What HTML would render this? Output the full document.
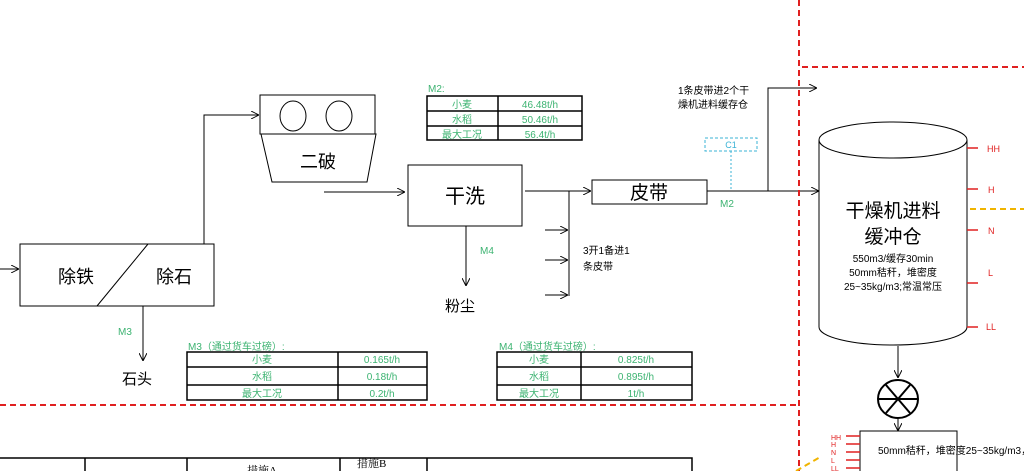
<!DOCTYPE html>
<html><head><meta charset="utf-8"><style>
html,body{margin:0;padding:0;background:#fff;width:1024px;height:471px;overflow:hidden}
svg{display:block}
text{font-family:"Liberation Sans","Noto Sans CJK SC",sans-serif}
.s{font-family:"Liberation Serif","Noto Serif CJK SC",serif}
.g{fill:#3cb371}
</style></head><body>
<svg width="1024" height="471" viewBox="0 0 1024 471" xmlns="http://www.w3.org/2000/svg">
<defs>
<marker id="a" viewBox="0 0 10 10" refX="10" refY="5" markerWidth="8" markerHeight="8" orient="auto" markerUnits="userSpaceOnUse"><path d="M0,0 L10,5 L0,10" fill="none" stroke="#000" stroke-width="1.2"/></marker>
</defs>
<g stroke="#000" stroke-width="1" fill="none">
<!-- 除铁除石 -->
<rect x="20" y="244" width="194" height="62"/>
<line x1="148" y1="244" x2="97" y2="306"/>
<line x1="0" y1="269" x2="19" y2="269" marker-end="url(#a)"/>
<polyline points="204,244 204,115 259,115" marker-end="url(#a)"/>
<!-- 二破 -->
<rect x="260" y="95" width="115" height="39"/>
<ellipse cx="293" cy="116" rx="13" ry="15"/>
<ellipse cx="339" cy="116" rx="13" ry="15"/>
<polygon points="261,134 376,134 367,182 272,182"/>
<line x1="324" y1="192" x2="405" y2="192" marker-end="url(#a)"/>
<!-- 干洗 -->
<rect x="408" y="165" width="114" height="61"/>
<line x1="525" y1="191" x2="591" y2="191" marker-end="url(#a)"/>
<line x1="569" y1="191" x2="569" y2="296"/>
<line x1="545" y1="230" x2="568" y2="230" marker-end="url(#a)"/>
<line x1="545" y1="260" x2="568" y2="260" marker-end="url(#a)"/>
<line x1="545" y1="295" x2="568" y2="295" marker-end="url(#a)"/>
<line x1="466" y1="226" x2="466" y2="286" marker-end="url(#a)"/>
<!-- 皮带 -->
<rect x="592" y="180" width="115" height="24"/>
<line x1="707" y1="191" x2="819" y2="191" marker-end="url(#a)"/>
<polyline points="768,191 768,88 817,88" marker-end="url(#a)"/>
<!-- M3 arrow -->
<line x1="143" y1="306" x2="143" y2="361" marker-end="url(#a)"/>
<!-- cylinder -->
<path d="M819,140 L819,327 A74,18 0 0 0 967,327 L967,140"/>
<ellipse cx="893" cy="140" rx="74" ry="18"/>
<line x1="898" y1="346" x2="898" y2="378" marker-end="url(#a)"/>
<line x1="898" y1="419" x2="898" y2="431" marker-end="url(#a)"/>
<rect x="860" y="431" width="97" height="50"/>
</g>
<g stroke="#000" stroke-width="2" fill="none">
<ellipse cx="898" cy="399" rx="20" ry="19"/>
<line x1="878" y1="399" x2="918" y2="399"/>
<line x1="886" y1="385" x2="910" y2="413"/>
<line x1="910" y1="385" x2="886" y2="413"/>
</g>
<!-- C1 -->
<rect x="705" y="138" width="52" height="13" fill="none" stroke="#3bb3d6" stroke-dasharray="3,2"/>
<line x1="731" y1="151" x2="731" y2="191" stroke="#3bb3d6" stroke-dasharray="2,2"/>
<text x="731" y="148" font-size="9" fill="#3bb3d6" text-anchor="middle">C1</text>
<!-- red dashed -->
<g stroke="#e02020" stroke-width="2" stroke-dasharray="6,4" fill="none">
<line x1="799" y1="0" x2="799" y2="471"/>
<line x1="0" y1="405" x2="798" y2="405"/>
<line x1="802" y1="67" x2="1024" y2="67"/>
</g>
<g stroke="#f0b400" stroke-width="2" stroke-dasharray="6,4">
<line x1="970" y1="209" x2="1024" y2="209"/>
<line x1="796" y1="471" x2="822" y2="456"/>
</g>
<!-- level ticks -->
<g stroke="#e02020" stroke-width="1.5">
<line x1="967" y1="148" x2="978" y2="148"/><line x1="967" y1="189" x2="978" y2="189"/>
<line x1="967" y1="230" x2="978" y2="230"/><line x1="967" y1="283" x2="978" y2="283"/>
<line x1="967" y1="327" x2="978" y2="327"/>
<line x1="846" y1="436" x2="860" y2="436"/><line x1="846" y1="444" x2="860" y2="444"/>
<line x1="846" y1="452" x2="860" y2="452"/><line x1="846" y1="460" x2="860" y2="460"/>
<line x1="846" y1="468" x2="860" y2="468"/>
</g>
<g fill="#e02020" font-size="9">
<text x="987" y="152">HH</text><text x="988" y="193">H</text><text x="988" y="234">N</text>
<text x="988" y="276">L</text><text x="986" y="330">LL</text>
</g>
<g fill="#e02020" font-size="7">
<text x="831" y="440">HH</text><text x="831" y="447">H</text><text x="831" y="455">N</text><text x="831" y="463">L</text><text x="831" y="471">LL</text>
</g>
<!-- main labels -->
<text x="76" y="283" font-size="18" text-anchor="middle">除铁</text>
<text x="174" y="283" font-size="18" text-anchor="middle">除石</text>
<text x="318" y="168" font-size="18" text-anchor="middle">二破</text>
<text x="465" y="203" font-size="20" text-anchor="middle">干洗</text>
<text x="649" y="199" font-size="19" text-anchor="middle">皮带</text>
<text x="460" y="311" font-size="15" text-anchor="middle">粉尘</text>
<text x="137" y="384" font-size="15" text-anchor="middle">石头</text>
<text x="583" y="254" font-size="10">3开1备进1</text>
<text x="583" y="270" font-size="10">条皮带</text>
<text x="678" y="94" font-size="10">1条皮带进2个干</text>
<text x="678" y="108" font-size="10">燥机进料缓存仓</text>
<text x="480" y="254" font-size="10" class="g">M4</text>
<text x="118" y="335" font-size="10" class="g">M3</text>
<text x="720" y="207" font-size="10" class="g">M2</text>
<text x="893" y="217" font-size="19" text-anchor="middle">干燥机进料</text>
<text x="893" y="243" font-size="19" text-anchor="middle">缓冲仓</text>
<text x="893" y="262" font-size="10" text-anchor="middle">550m3/缓存30min</text>
<text x="893" y="276" font-size="10" text-anchor="middle">50mm秸秆，堆密度</text>
<text x="893" y="290" font-size="10" text-anchor="middle">25~35kg/m3;常温常压</text>
<text x="878" y="454" font-size="10">50mm秸秆，堆密度25~35kg/m3，</text>
<!-- tables -->
<g stroke="#000" stroke-width="1.5" fill="none">
<rect x="427" y="96" width="155" height="44"/>
<line x1="498" y1="96" x2="498" y2="140"/><line x1="427" y1="111" x2="582" y2="111"/><line x1="427" y1="126" x2="582" y2="126"/>
<rect x="187" y="352" width="240" height="48"/>
<line x1="338" y1="352" x2="338" y2="400"/><line x1="187" y1="367" x2="427" y2="367"/><line x1="187" y1="385" x2="427" y2="385"/>
<rect x="497" y="352" width="195" height="48"/>
<line x1="581" y1="352" x2="581" y2="400"/><line x1="497" y1="367" x2="692" y2="367"/><line x1="497" y1="385" x2="692" y2="385"/>
<rect x="-2" y="458" width="694" height="20"/>
<line x1="85" y1="458" x2="85" y2="471"/><line x1="187" y1="458" x2="187" y2="471"/>
<line x1="340" y1="458" x2="340" y2="471"/><line x1="427" y1="458" x2="427" y2="471"/>
</g>
<g class="s g" font-size="10" text-anchor="middle">
<text x="428" y="92" text-anchor="start">M2:</text>
<text x="462" y="108">小麦</text><text x="540" y="108">46.48t/h</text>
<text x="462" y="123">水稻</text><text x="540" y="123">50.46t/h</text>
<text x="462" y="138">最大工况</text><text x="540" y="138">56.4t/h</text>
<text x="188" y="350" text-anchor="start">M3（通过货车过磅）:</text>
<text x="262" y="363">小麦</text><text x="382" y="363">0.165t/h</text>
<text x="262" y="380">水稻</text><text x="382" y="380">0.18t/h</text>
<text x="262" y="397">最大工况</text><text x="382" y="397">0.2t/h</text>
<text x="499" y="350" text-anchor="start">M4（通过货车过磅）:</text>
<text x="539" y="363">小麦</text><text x="636" y="363">0.825t/h</text>
<text x="539" y="380">水稻</text><text x="636" y="380">0.895t/h</text>
<text x="539" y="397">最大工况</text><text x="636" y="397">1t/h</text>
</g>
<text x="262" y="474" font-size="11" class="s" text-anchor="middle">措施A</text>
<text x="357" y="467" font-size="11" class="s">措施B</text>
</svg>
</body></html>
